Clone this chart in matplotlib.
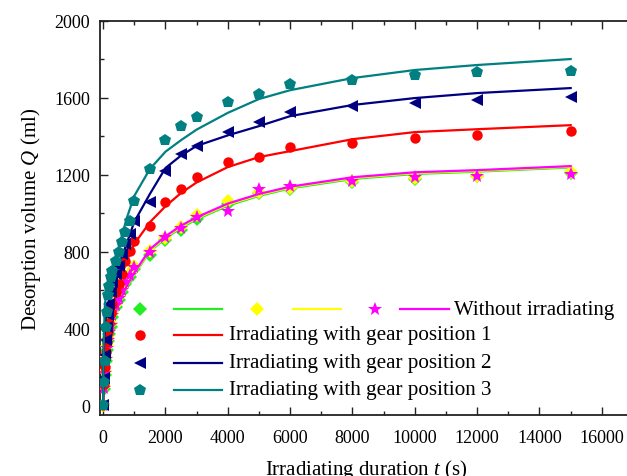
import matplotlib
matplotlib.use("Agg")
import matplotlib.pyplot as plt
from matplotlib.ticker import MultipleLocator
from matplotlib.lines import Line2D

plt.rcParams['font.family'] = ['Liberation Serif', 'DejaVu Serif']
plt.rcParams['mathtext.fontset'] = 'custom'
plt.rcParams['mathtext.rm'] = 'Liberation Serif'
plt.rcParams['mathtext.it'] = 'Liberation Serif:italic'

# ---- measured data (markers) ----
t_pts = [0, 30, 60, 90, 120, 150, 180, 240, 300, 400, 500, 600, 700, 850, 1000,
         1500, 2000, 2500, 3000, 4000, 5000, 6000, 8000, 10000, 12000, 15000]
green_pts = [0, 85, 160, 230, 290, 335, 370, 410, 460, 510, 550, 590, 630, 670, 710,
             785, 860, 915, 970, 1050, 1105, 1125, 1160, 1180, 1192, 1210]
yellow_pts = [0, 100, 180, 250, 310, 350, 390, 430, 480, 530, 570, 610, 650, 690, 725,
              805, 870, 930, 990, 1065, 1110, 1132, 1165, 1182, 1195, 1215]
magenta_pts = [0, 90, 170, 240, 300, 340, 380, 420, 470, 520, 560, 600, 640, 680, 720,
               797, 875, 922, 979, 1010, 1125, 1141, 1167, 1187, 1193, 1203]
red_pts = [0, 110, 200, 280, 330, 380, 430, 480, 530, 590, 630, 682, 750, 802, 855,
           932, 1057, 1125, 1188, 1266, 1290, 1344, 1365, 1391, 1406, 1427]
blue_pts = [0, 140, 260, 340, 410, 470, 530, 590, 640, 682, 724, 786, 838, 890, 960,
            1057, 1219, 1307, 1349, 1422, 1477, 1526, 1557, 1573, 1589, 1604]
teal_pts = [0, 120, 229, 406, 484, 573, 620, 667, 698, 750, 797, 849, 901, 958, 1063,
            1232, 1380, 1453, 1503, 1578, 1620, 1670, 1695, 1720, 1735, 1742]

# ---- fitted curves ----
t_fit = [0, 15, 30, 60, 120, 200, 300, 500, 750, 1000, 1500, 2000, 2500, 3000,
         4000, 5000, 6000, 8000, 10000, 12000, 15000]
green_fit = [0, 114, 172, 252, 322, 382, 432, 521, 611, 680, 801, 869, 924, 968,
             1039, 1090, 1129, 1178, 1204, 1216, 1238]
yellow_fit = [0, 117, 176, 256, 326, 386, 436, 526, 616, 686, 807, 875, 930, 974,
              1045, 1095, 1134, 1183, 1209, 1220, 1242]
magenta_fit = [0, 120, 180, 260, 330, 390, 440, 530, 620, 690, 812, 880, 935, 979,
               1050, 1100, 1138, 1187, 1213, 1224, 1245]
red_fit = [0, 180, 250, 330, 400, 460, 510, 620, 750, 840, 953, 1036, 1105, 1160,
           1240, 1292, 1323, 1385, 1422, 1437, 1458]
blue_fit = [0, 230, 320, 420, 500, 560, 610, 730, 840, 955, 1100, 1235, 1300, 1350,
            1405, 1453, 1505, 1563, 1599, 1625, 1651]
teal_fit = [0, 300, 400, 530, 590, 640, 700, 820, 970, 1090, 1230, 1320, 1380, 1435,
            1522, 1594, 1640, 1703, 1745, 1771, 1802]

legend_labels = ["Without irradiating",
                 "Irradiating with gear position 1",
                 "Irradiating with gear position 2",
                 "Irradiating with gear position 3"]

W, H = 627, 477
fig = plt.figure(figsize=(W / 100, H / 100), dpi=100)
ax = fig.add_axes([100 / W, 1 - 416 / H, 533 / W, 394 / H])

series = [
    (green_pts, green_fit, '#22ee22', 'D', 7),
    (yellow_pts, yellow_fit, '#ffff00', 'D', 7),
    (magenta_pts, magenta_fit, '#ff00ff', '*', 10),
    (red_pts, red_fit, '#ff0000', 'o', 7.5),
    (blue_pts, blue_fit, '#000080', '<', 8.5),
    (teal_pts, teal_fit, '#008080', 'p', 9),
]
z = 2
for pts, fit, col, mk, ms in series:
    ax.plot(t_pts, pts, linestyle='none', marker=mk, color=col, markersize=ms,
            markeredgewidth=0, zorder=z)
    ax.plot(t_fit, fit, color=col, lw=1.6, zorder=z + 0.5)
    z += 1

ax.set_xlim(-100, 17000)
ax.set_ylim(-50, 2000)
ax.xaxis.set_major_locator(MultipleLocator(2000))
ax.xaxis.set_minor_locator(MultipleLocator(1000))
ax.yaxis.set_major_locator(MultipleLocator(400))
ax.yaxis.set_minor_locator(MultipleLocator(200))
ax.tick_params(which='both', direction='in', top=True, right=False, width=1.0,
               colors='#222222', labelcolor='black', labelsize=13)
ax.tick_params(which='major', length=6)
ax.tick_params(which='minor', length=3)
ax.tick_params(axis='x', pad=10)
ax.tick_params(axis='y', pad=7)
for s in ax.spines.values():
    s.set_linewidth(1.3)
    s.set_color('#222222')

ax.set_xlabel('Irradiating duration $t$ (s)', fontsize=15, labelpad=8)
ax.set_ylabel('Desorption volume $Q$ (ml)', fontsize=15, labelpad=8)

# ---- manual legend in figure pixel coordinates ----
def fx(x):
    return x / W

def fy(y):
    return 1 - y / H

rows_y = [310, 336, 364, 391]
row1 = [(140, 174, 222, series[0]), (257, 293, 341, series[1]), (375, 400, 449, series[2])]
for mx, l0, l1, s in row1:
    col, mk, ms = s[2], s[3], s[4]
    fig.add_artist(Line2D([fx(mx)], [fy(rows_y[0])], marker=mk, color=col,
                          markersize=ms, markeredgewidth=0, linestyle='none'))
    fig.add_artist(Line2D([fx(l0), fx(l1)], [fy(rows_y[0])] * 2, color=col, lw=1.6))
fig.text(fx(454), fy(rows_y[0]), legend_labels[0], fontsize=15, va='center', ha='left')
for i, s in enumerate(series[3:]):
    y = rows_y[i + 1]
    col, mk, ms = s[2], s[3], s[4]
    fig.add_artist(Line2D([fx(140)], [fy(y)], marker=mk, color=col,
                          markersize=ms, markeredgewidth=0, linestyle='none'))
    fig.add_artist(Line2D([fx(174), fx(222)], [fy(y)] * 2, color=col, lw=1.6))
    fig.text(fx(229), fy(y), legend_labels[i + 1], fontsize=15.2, va='center', ha='left')

fig.savefig('out.png', dpi=100)
